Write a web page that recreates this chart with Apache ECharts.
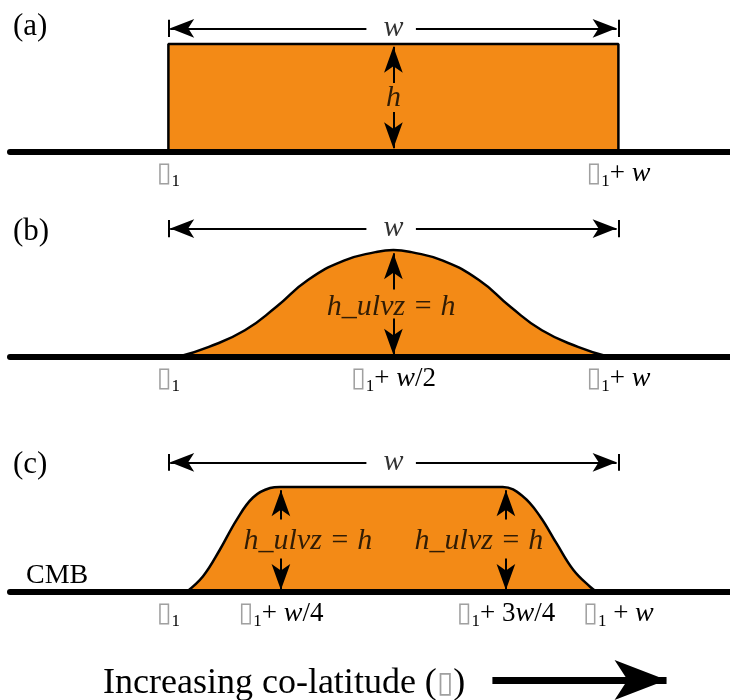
<!DOCTYPE html>
<html>
<head>
<meta charset="utf-8">
<script src="https://cdn.jsdelivr.net/npm/echarts@6/dist/echarts.min.js"></script>
<style>
  html, body { margin: 0; padding: 0; background: #fff; }
  #main { width: 730px; height: 700px; }
</style>
</head>
<body>
<div id="main"></div>
<script>
// x is measured in units of w from theta_1, y in units of h
const ticksA = [0, 1];
const tickLabelsA = ['{b|▯}{s|1}', '{b|▯}{s|1}+ {i|w}'];
const ticksB = [0, 0.5, 1];
const tickLabelsB = ['{b|▯}{s|1}', '{b|▯}{s|1}+ {i|w}/2', '{b|▯}{s|1}+ {i|w}'];
const ticksC = [0, 0.25, 0.75, 1];
const tickLabelsC = ['{b|▯}{s|1}', '{b|▯}{s|1}+ {i|w}/4', '{b|▯}{s|1}+ 3{i|w}/4', '{b|▯}{s|1} + {i|w}'];

// (a) box profile
const boxX = [0, 0, 1, 1];
const boxY = [0, 1, 1, 0];
// (b) bell profile
const bellX = [0.02, 0.09, 0.17, 0.24, 0.31, 0.39, 0.46, 0.5, 0.54, 0.61, 0.69, 0.76, 0.83, 0.91, 0.98];
const bellY = [0, 0.095, 0.25, 0.47, 0.72, 0.9, 0.98, 1, 0.98, 0.9, 0.72, 0.47, 0.25, 0.095, 0];
// (c) flat-topped profile
const flatX = [0.04, 0.077, 0.114, 0.152, 0.188, 0.226, 0.248, 0.5, 0.743, 0.788, 0.826, 0.863, 0.9, 0.937, 0.952];
const flatY = [0, 0.15, 0.4, 0.69, 0.9, 0.99, 1, 1, 1, 0.91, 0.72, 0.46, 0.21, 0.05, 0];

// width arrow height for each panel, and the h arrows
const spanY = [1.145, 1.2, 1.235];
const armsA = [0.5];
const armsB = [0.5];
const armsC = [0.25, 0.75];
const heightLabels = ['h', 'h_ulvz = h', 'h_ulvz = h'];

const serif = '"Liberation Serif", "DejaVu Serif", serif';
const orange = '#F38A16';
const xMin = -0.352, xMax = 1.248;

const rich = {
  b: { fontFamily: '"DejaVu Sans", sans-serif', fontSize: 27, color: '#a0a0a0' },
  s: { fontFamily: serif, fontSize: 17, color: '#000', padding: [16, 0, 0, 0] },
  i: { fontFamily: serif, fontSize: 28, fontStyle: 'italic', color: '#000' }
};

function zip(xs, ys) {
  return xs.map((x, k) => [x, ys[k]]);
}

function xAxisFor(gi, ticks, labels) {
  return {
    type: 'value', gridIndex: gi, min: xMin, max: xMax, z: 10,
    axisLine: { onZero: false, lineStyle: { color: '#000', width: 6 } },
    axisTick: { show: false },
    splitLine: { show: false },
    axisLabel: {
      customValues: ticks,
      formatter: v => { const k = ticks.indexOf(v); return k < 0 ? '' : labels[k]; },
      margin: 5, fontFamily: serif, fontSize: 27, color: '#000', rich: rich
    }
  };
}

function arrow(from, to, size) {
  return [{ coord: from, symbol: 'none' }, { coord: to, symbol: 'arrow', symbolSize: size }];
}
function seg(from, to) {
  return [{ coord: from, symbol: 'none' }, { coord: to, symbol: 'none' }];
}

function annotations(gi, arms, up, down) {
  const y = spanY[gi];
  const lines = [
    arrow([0.44, y], [0.004, y], [14, 24]),
    arrow([0.55, y], [0.996, y], [14, 24]),
    seg([0, y - 0.08], [0, y + 0.08]),
    seg([1, y - 0.08], [1, y + 0.08])
  ];
  arms.forEach(x => {
    lines.push(arrow([x, up[0]], [x, up[1]], [14, 26]));
    lines.push(arrow([x, down[0]], [x, down[1]], [14, 26]));
  });
  return {
    type: 'line', xAxisIndex: gi, yAxisIndex: gi, data: [], silent: true,
    markLine: {
      silent: true, animation: false,
      label: { show: false },
      lineStyle: { color: '#000', width: 2, type: 'solid' },
      emphasis: { disabled: true },
      data: lines
    }
  };
}

function profile(gi, pts, smooth) {
  return {
    type: 'line', xAxisIndex: gi, yAxisIndex: gi, data: pts,
    symbol: 'none', smooth: smooth, silent: true, clip: false,
    lineStyle: { color: '#000', width: 2.5 },
    areaStyle: { color: orange, opacity: 1 }
  };
}

function texts(gi, items) {
  return {
    type: 'scatter', xAxisIndex: gi, yAxisIndex: gi, symbolSize: 0, silent: true,
    data: items,
    label: {
      show: true, position: 'inside', formatter: p => p.data[2],
      fontFamily: serif, fontStyle: 'italic', fontSize: 30, color: '#000'
    },
    z: 5
  };
}

const chart = echarts.init(document.getElementById('main'));

const option = {
  animation: false,
  backgroundColor: '#fff',
  title: [
    { text: '(a)', left: 8, top: 6 },
    { text: '(b)', left: 8, top: 211 },
    { text: '(c)', left: 8, top: 444 },
    { text: 'CMB', left: 21, top: 557, textStyle: { fontSize: 28 } },
    { text: 'Increasing co-latitude ({b|▯})', left: 98, top: 661,
      textStyle: { fontSize: 36, rich: { b: { fontFamily: '"DejaVu Sans", sans-serif', fontSize: 30, color: '#a0a0a0' } } } }
  ].map(t => Object.assign({ textStyle: {} }, t, {
    textStyle: Object.assign({ fontFamily: serif, fontSize: 31, fontWeight: 'normal', color: '#000' }, t.textStyle)
  })),
  grid: [
    { left: 10, right: 0, top: 0.8, height: 151.2, outerBoundsMode: 'none' },
    { left: 10, right: 0, top: 207.2, height: 149.8, outerBoundsMode: 'none' },
    { left: 10, right: 0, top: 445, height: 147, outerBoundsMode: 'none' },
    { left: 10, right: 0, top: 660, height: 40, outerBoundsMode: 'none' }
  ],
  xAxis: [
    xAxisFor(0, ticksA, tickLabelsA),
    xAxisFor(1, ticksB, tickLabelsB),
    xAxisFor(2, ticksC, tickLabelsC),
    { type: 'value', gridIndex: 3, min: xMin, max: xMax, show: false }
  ],
  yAxis: [
    { type: 'value', gridIndex: 0, min: 0, max: 1.4, show: false },
    { type: 'value', gridIndex: 1, min: 0, max: 1.4, show: false },
    { type: 'value', gridIndex: 2, min: 0, max: 1.4, show: false },
    { type: 'value', gridIndex: 3, min: -1, max: 1, show: false }
  ],
  series: [
    profile(0, zip(boxX, boxY), false),
    profile(1, zip(bellX, bellY), 0.5),
    profile(2, zip(flatX, flatY), 0.4),
    annotations(0, armsA, [0.64, 0.975], [0.37, 0.035]),
    annotations(1, armsB, [0.63, 0.97], [0.36, 0.02]),
    annotations(2, armsC, [0.69, 0.97], [0.32, 0.02]),
    texts(0, [[0.5, spanY[0], 'w'], [0.5, 0.5, heightLabels[0]]]),
    texts(1, [[0.5, spanY[1], 'w'], [0.495, 0.47, heightLabels[1]]]),
    texts(2, [[0.5, spanY[2], 'w'], [0.31, 0.48, heightLabels[2]], [0.69, 0.48, heightLabels[2]]]),
    {
      type: 'line', xAxisIndex: 3, yAxisIndex: 3, data: [], silent: true,
      markLine: {
        silent: true, animation: false, label: { show: false },
        lineStyle: { color: '#000', width: 7, type: 'solid' },
        emphasis: { disabled: true },
        data: [arrow([0.72, 0], [1.107, 0], [30, 52])]
      }
    }
  ]
};

chart.setOption(option);
</script>
</body>
</html>
